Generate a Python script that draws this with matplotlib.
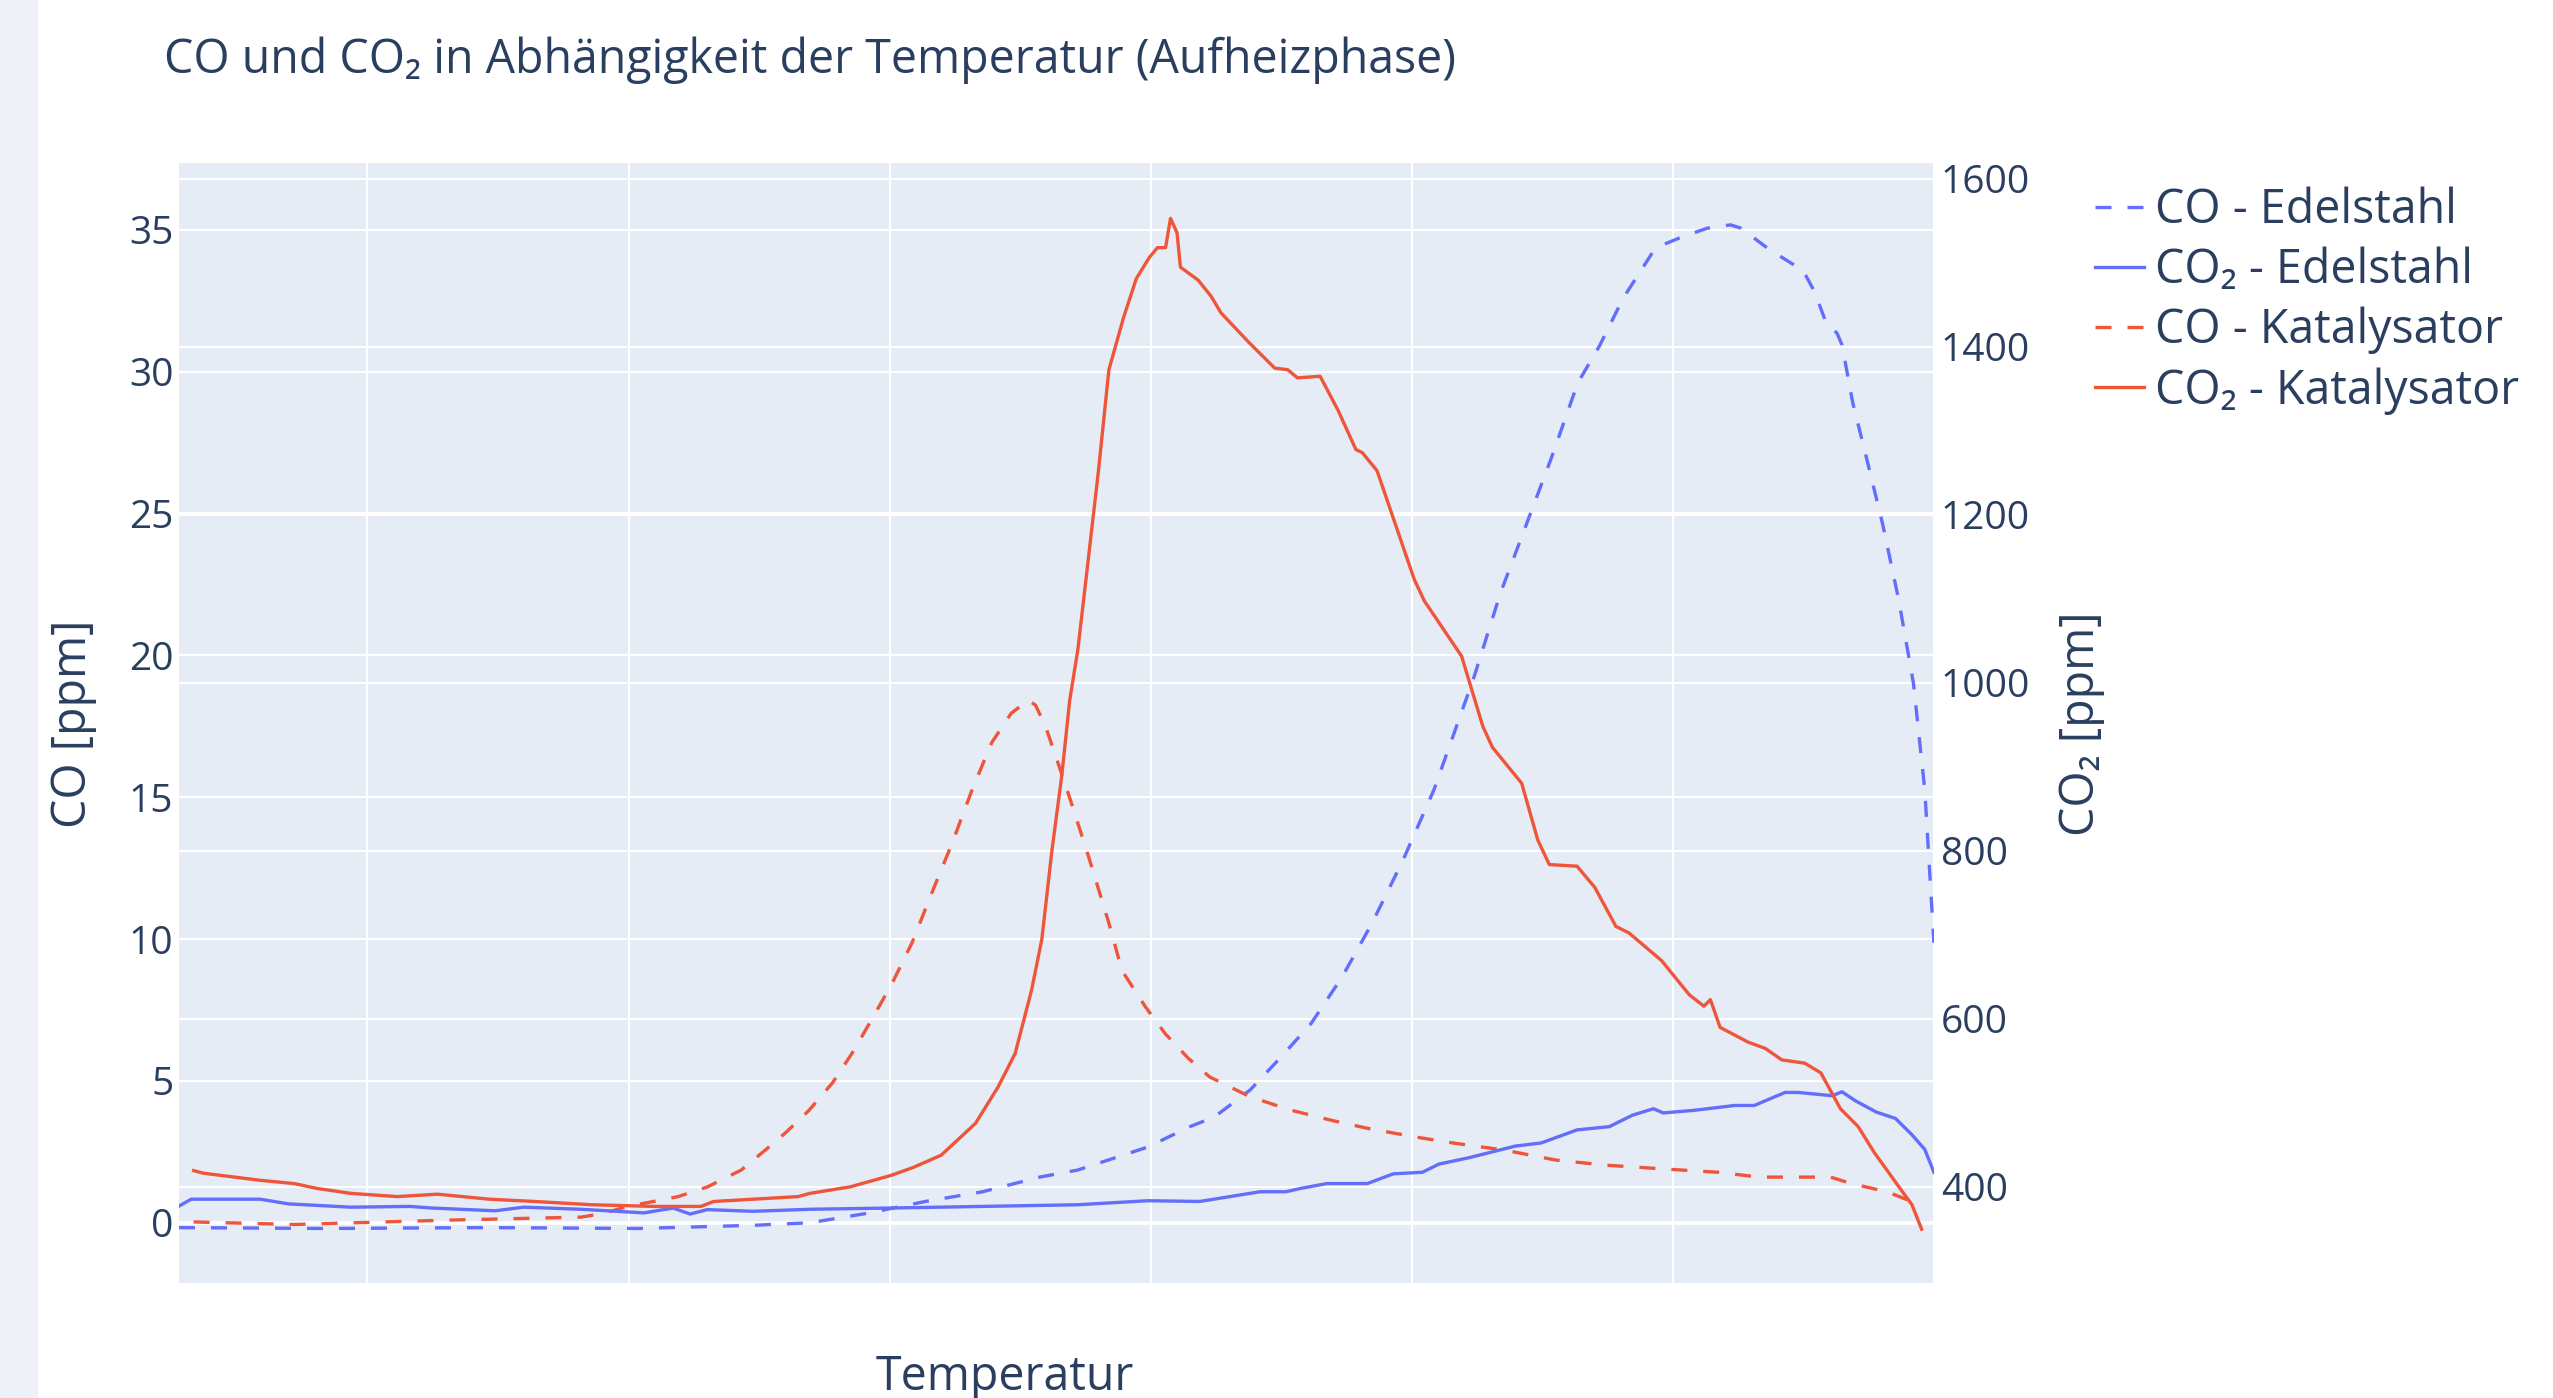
import matplotlib.pyplot as plt
from matplotlib.patches import Rectangle

plt.rcParams['font.family'] = ['Open Sans', 'DejaVu Sans']

# CO2 - Katalysator (right axis)
t_co2_kat = [33.4, 37.1, 58.9, 72.0, 80.7, 93.8, 111.5, 126.8, 146.7, 164.1, 185.9, 210.2, 227.7,
             232.6, 265.0, 269.4, 284.9, 300.5, 309.2, 319.8, 332.9, 341.6, 348.1, 354.4, 358.3,
             362.2, 365.9, 369.0, 372.1, 375.2, 380.0, 384.0, 389.6, 394.5, 399.5, 402.6, 405.7,
             407.6, 410.1, 411.4, 418.2, 423.2, 426.9, 437.5, 447.5, 452.5, 456.2, 464.9, 471.8,
             478.6, 481.1, 486.7, 501.0, 504.8, 519.1, 527.2, 530.9, 542.1, 548.3, 552.7, 563.3,
             570.1, 578.2, 583.2, 595.7, 606.3, 611.9, 614.4, 618.1, 628.7, 635.5, 641.7, 650.5,
             656.7, 664.2, 671.0, 677.2, 686.6, 691.6, 695.3]
co2_kat = [419.4, 416.3, 407.8, 403.9, 398.1, 392.2, 388.4, 391.3, 385.3, 382.6, 378.7, 376.7, 376.7,
           382.6, 388.4, 392.2, 400.0, 413.6, 423.3, 437.8, 475.6, 519.2, 558.9, 634.5, 694.6,
           801.2, 888.4, 979.5, 1039.5, 1122.9, 1252.7, 1372.9, 1434.9, 1481.4, 1506.6, 1518.2, 1518.2,
           1553.1, 1535.7, 1495.0, 1479.5, 1460.1, 1440.7, 1405.8, 1374.8, 1372.9, 1363.2, 1365.1, 1324.4,
           1277.9, 1274.0, 1252.7, 1122.9, 1097.7, 1031.8, 948.5, 923.3, 880.6, 812.8, 783.7, 781.8,
           756.6, 710.1, 702.3, 669.4, 628.7, 615.1, 622.9, 589.9, 572.5, 564.7, 551.2, 547.3,
           535.7, 493.0, 471.7, 440.7, 400.0, 378.7, 349.6]

# CO2 - Edelstahl (right axis)
t_co2_edel = [27.8, 32.5, 58.9, 69.8, 93.8, 116.2, 124.7, 148.9, 159.8, 181.9, 205.9, 217.1, 223.6,
              230.1, 247.6, 269.4, 300.5, 335.4, 372.1, 398.9, 418.8, 441.9, 451.8, 457.4, 467.4,
              483.0, 492.9, 504.1, 510.4, 522.2, 539.6, 549.6, 563.3, 575.7, 584.5, 592.6, 596.3,
              608.1, 623.7, 631.2, 643.0, 648.0, 661.1, 664.8, 669.8, 677.9, 685.3, 691.6, 696.5, 700.0]
co2_edel = [377.1, 385.3, 385.3, 379.7, 375.8, 376.7, 374.8, 371.5, 375.8, 373.3, 369.0, 374.8, 367.6,
            372.9, 370.9, 373.3, 374.8, 376.7, 378.7, 383.5, 382.6, 394.2, 394.2, 398.1, 403.9,
            403.9, 415.5, 417.4, 427.1, 434.9, 448.5, 452.3, 467.8, 471.7, 485.3, 493.0, 488.0,
            491.1, 496.9, 496.9, 512.4, 512.4, 508.5, 513.2, 502.7, 489.1, 481.4, 462.0, 444.6, 417.4]

# CO - Katalysator (left axis)
t_co_kat = [33.4, 72.0, 129.0, 181.9, 190.7, 199.4, 218.9, 230.1, 243.2, 252.6, 260.0, 269.1, 278.1,
            285.6, 293.0, 300.9, 308.6, 316.1, 323.9, 331.6, 339.1, 346.6, 353.2, 355.9, 359.7,
            364.6, 369.6, 376.2, 384.0, 389.0, 398.0, 405.7, 414.5, 422.6, 438.1, 453.7, 469.3,
            483.0, 500.4, 516.0, 535.6, 555.2, 574.5, 594.4, 617.5, 633.0, 660.4, 668.5, 682.2, 694.7]
co_kat = [0.03, -0.06, 0.09, 0.20, 0.34, 0.57, 0.92, 1.26, 1.86, 2.58, 3.16, 3.96, 4.93,
          5.97, 7.14, 8.43, 9.87, 11.61, 13.37, 15.26, 16.92, 17.96, 18.42, 18.24, 17.50,
          16.18, 14.80, 12.91, 10.56, 8.89, 7.61, 6.65, 5.79, 5.14, 4.44, 3.97, 3.61,
          3.33, 3.04, 2.81, 2.56, 2.21, 2.03, 1.91, 1.78, 1.61, 1.61, 1.38, 1.09, 0.63]

# CO - Edelstahl (left axis)
t_co_edel = [27.8, 83.8, 146.1, 203.7, 247.6, 269.4, 291.8, 313.6, 335.4, 357.5, 372.1, 398.9, 414.8,
             424.4, 438.1, 450.0, 461.5, 473.3, 484.8, 496.7, 508.5, 523.8, 534.0, 542.7, 553.3,
             563.6, 572.0, 581.0, 592.6, 595.7, 603.1, 613.1, 622.1, 626.2, 636.8, 649.9, 654.2,
             658.6, 662.9, 664.8, 668.9, 674.7, 680.4, 686.6, 692.2, 696.5, 700.0]
co_edel = [-0.17, -0.20, -0.17, -0.20, -0.09, 0.00, 0.34, 0.75, 1.09, 1.61, 1.86, 2.67, 3.38,
           3.73, 4.68, 5.85, 7.03, 8.66, 10.56, 12.79, 15.26, 19.22, 22.20, 24.32, 26.91,
           29.60, 30.92, 32.59, 34.25, 34.45, 34.73, 35.05, 35.17, 35.05, 34.31, 33.56, 32.83,
           31.75, 31.35, 30.94, 28.91, 26.76, 24.61, 21.92, 18.99, 15.26, 9.87]

x_ticks = [100, 200, 300, 400, 500, 600, 700]
co_ticks = [0, 5, 10, 15, 20, 25, 30, 35]
co2_ticks = [400, 600, 800, 1000, 1200, 1400, 1600]

blue = '#636EFA'
red = '#EF553B'
txt = '#2a3f5f'
lw = 2.4
dash = (0, (4.8, 4.8))
fs = 33.5

fig = plt.figure(figsize=(25.53, 13.98), dpi=100)
fig.patches.append(Rectangle((0, 0), 37 / 2553, 1, transform=fig.transFigure,
                             color='#eef2f8', zorder=0))

rect = [0.0701, 0.0823, 0.6874, 0.8011]
ax = fig.add_axes(rect)
ax.set_facecolor('#E5ECF6')
ax2 = ax.twinx()
ax_co = ax.twinx()
ax_co2 = ax.twinx()

xlim = (27.8, 700)
co_lim = (-2.12, 37.35)
co2_lim = (285.6, 1619)

for a in (ax, ax2, ax_co, ax_co2):
    a.set_xlim(*xlim)
    for s in a.spines.values():
        s.set_visible(False)
ax.set_ylim(*co_lim)
ax_co.set_ylim(*co_lim)
ax2.set_ylim(*co2_lim)
ax_co2.set_ylim(*co2_lim)

ax.set_xticks(x_ticks)
ax.set_xticklabels([])
ax.set_yticks(co_ticks)
ax2.set_yticks(co2_ticks)
ax.tick_params(axis='both', length=0, labelsize=28, labelcolor=txt)
ax.tick_params(axis='y', pad=4)
ax2.tick_params(axis='y', length=0, labelsize=28, labelcolor=txt, pad=5)
ax.grid(True, color='white', linewidth=1.5)
ax2.grid(True, axis='y', color='white', linewidth=1.5)
ax.axhline(0, color='white', linewidth=2.6, zorder=1)
ax.set_axisbelow(True)

ax_co.axis('off')
ax_co2.axis('off')

l1, = ax_co.plot(t_co_edel, co_edel, color=blue, linewidth=lw, linestyle=dash, label='CO - Edelstahl')
l2, = ax_co2.plot(t_co2_edel, co2_edel, color=blue, linewidth=lw, label='CO₂ - Edelstahl')
l3, = ax_co.plot(t_co_kat, co_kat, color=red, linewidth=lw, linestyle=dash, label='CO - Katalysator')
l4, = ax_co2.plot(t_co2_kat, co2_kat, color=red, linewidth=lw, label='CO₂ - Katalysator')

fig.text(164 / 2553, 1 - 60 / 1398, 'CO und CO₂ in Abhängigkeit der Temperatur (Aufheizphase)',
         fontsize=fs, color=txt, ha='left', va='center')
fig.text(617 / 1568, 1 - 846 / 859, 'Temperatur', fontsize=fs, color=txt, ha='center', va='center')
fig.text(45 / 1568, 1 - 445 / 859, 'CO [ppm]', fontsize=fs, color=txt, ha='center', va='center',
         rotation=90)
fig.text(1278 / 1568, 1 - 445 / 859, 'CO₂ [ppm]', fontsize=fs, color=txt, ha='center', va='center',
         rotation=90)

leg = fig.legend(handles=[l1, l2, l3, l4], loc='upper left', bbox_to_anchor=(0.8206, 0.8667),
                 frameon=False, fontsize=fs, handlelength=1.06, handletextpad=0.23,
                 labelspacing=0.275, borderpad=0, borderaxespad=0)
for t in leg.get_texts():
    t.set_color(txt)

fig.savefig('out.png', dpi=100, facecolor='white')
